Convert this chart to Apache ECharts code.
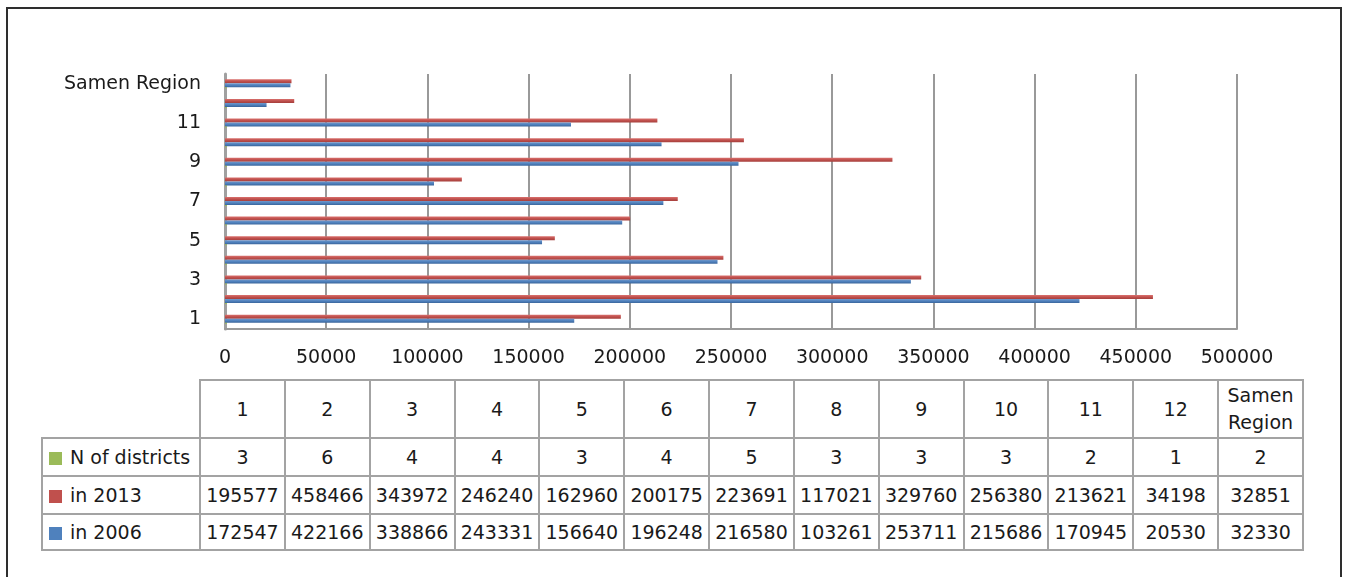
<!DOCTYPE html>
<html>
<head>
    <meta charset="utf-8">
    <title>Population by district</title>
    <script src="https://cdn.jsdelivr.net/npm/echarts@6/dist/echarts.min.js"></script>
    <style type="text/css">
        * {
            margin: 0;
            padding: 0;
        }
        body {
            width: 1345px;
            height: 577px;
            overflow: hidden;
            background: #fff;
            font-family: "DejaVu Sans", sans-serif;
        }
        #frame {
            position: absolute;
            left: 6px;
            top: 7px;
            width: 1332px;
            height: 600px;
            border: 2px solid #2e2e2e;
        }
        #main1 {
            position: absolute;
            left: 0;
            top: 0;
            width: 1345px;
            height: 377px;
        }
        #dataTable {
            position: absolute;
            left: 41px;
            top: 379px;
            border-collapse: collapse;
            table-layout: fixed;
            width: 1261px;
            font-size: 19px;
            color: #1a1a1a;
        }
        #dataTable td {
            border: 2px solid #a3a3a3;
            text-align: center;
            vertical-align: middle;
            white-space: nowrap;
            overflow: hidden;
        }
        #dataTable tr.head td {
            height: 56px;
            line-height: 27px;
            white-space: normal;
        }
        #dataTable td.blank {
            border-top: none;
            border-left: none;
        }
        #dataTable td.key {
            text-align: left;
            padding-left: 6px;
        }
        .swatch {
            display: inline-block;
            width: 13px;
            height: 13px;
            margin-right: 8px;
            vertical-align: -1px;
        }
    </style>
</head>
<body>
<div id="frame"></div>
<div id="main1"></div>
<table id="dataTable"></table>

<script type="text/javascript">
    // 类目
    var categories = ['1', '2', '3', '4', '5', '6', '7', '8', '9', '10', '11', '12', 'Samen Region'];
    // 各系列数据
    var nDistricts = [3, 6, 4, 4, 3, 4, 5, 3, 3, 3, 2, 1, 2];
    var in2013 = [195577, 458466, 343972, 246240, 162960, 200175, 223691, 117021, 329760, 256380, 213621, 34198, 32851];
    var in2006 = [172547, 422166, 338866, 243331, 156640, 196248, 216580, 103261, 253711, 215686, 170945, 20530, 32330];
    var xTicks = [0, 50000, 100000, 150000, 200000, 250000, 300000, 350000, 400000, 450000, 500000];

    var colors = {
        green: '#9bbb59',
        red: '#c0504d',
        blue: '#4f81bd'
    };

    function shade(top, mid, bottom) {
        return new echarts.graphic.LinearGradient(0, 0, 0, 1, [
            {offset: 0, color: top},
            {offset: 0.5, color: mid},
            {offset: 1, color: bottom}
        ]);
    }

    var myChart = echarts.init(document.getElementById('main1'));

    var option = {
        animation: false,
        textStyle: {
            fontFamily: 'DejaVu Sans'
        },
        grid: {
            left: 225,
            right: 108,
            top: 74,
            height: 255
        },
        xAxis: {
            type: 'value',
            min: xTicks[0],
            max: xTicks[xTicks.length - 1],
            interval: xTicks[1] - xTicks[0],
            axisLine: {
                show: true,
                lineStyle: {color: '#9a9a9a', width: 2}
            },
            axisTick: {show: false},
            axisLabel: {
                margin: 20,
                fontSize: 19,
                color: '#1a1a1a',
                formatter: function (v) {
                    return String(v); // 不要千位分隔符
                }
            },
            splitLine: {
                show: true,
                lineStyle: {color: '#999', width: 2}
            }
        },
        yAxis: {
            type: 'category',
            data: categories,
            axisLine: {
                show: true,
                lineStyle: {color: '#a0a0a0', width: 3}
            },
            axisTick: {show: false},
            axisLabel: {
                interval: 1,
                margin: 24,
                fontSize: 19,
                color: '#1a1a1a'
            }
        },
        series: [{
            name: 'in 2013',
            type: 'bar',
            barWidth: 4,
            barGap: '0%',
            itemStyle: {
                color: shade('#d9716e', colors.red, '#a53f3c')
            },
            data: in2013
        }, {
            name: 'in 2006',
            type: 'bar',
            barWidth: 4,
            barGap: '0%',
            itemStyle: {
                color: shade('#7199cc', colors.blue, '#3a659b')
            },
            data: in2006
        }, {
            name: 'N of districts',
            type: 'bar',
            barWidth: 1,
            barGap: '0%',
            barMinHeight: 2,
            itemStyle: {
                color: colors.green
            },
            data: nDistricts
        }]
    };

    myChart.setOption(option);

    // 数据表
    function buildTable() {
        var rows = [
            {name: 'N of districts', color: colors.green, data: nDistricts},
            {name: 'in 2013', color: colors.red, data: in2013},
            {name: 'in 2006', color: colors.blue, data: in2006}
        ];
        var html = '<colgroup><col style="width:158px">';
        for (var i = 0; i < categories.length; i++) {
            html += '<col style="width:84.85px">';
        }
        html += '</colgroup>';
        html += '<tr class="head"><td class="blank"></td>';
        for (var j = 0; j < categories.length; j++) {
            html += '<td>' + categories[j] + '</td>';
        }
        html += '</tr>';
        var heights = [38, 38, 36];
        for (var r = 0; r < rows.length; r++) {
            html += '<tr style="height:' + heights[r] + 'px"><td class="key"><span class="swatch" style="background:' + rows[r].color + '"></span>' + rows[r].name + '</td>';
            for (var k = 0; k < rows[r].data.length; k++) {
                html += '<td>' + rows[r].data[k] + '</td>';
            }
            html += '</tr>';
        }
        document.getElementById('dataTable').innerHTML = html;
    }

    buildTable();
</script>
</body>
</html>
